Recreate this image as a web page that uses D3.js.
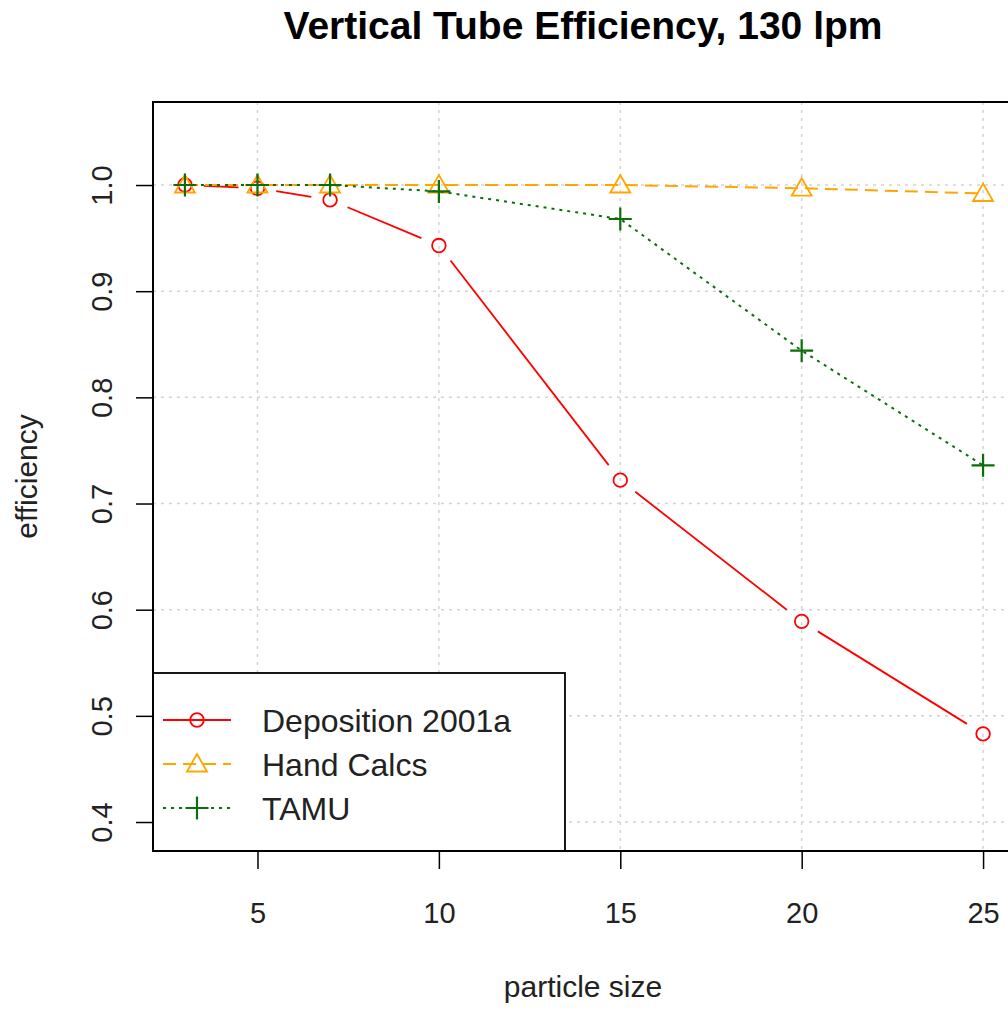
<!DOCTYPE html>
<html><head><meta charset="utf-8">
<script src="https://cdn.jsdelivr.net/npm/d3@7"></script>
<style>body{margin:0;background:#fff}svg{display:block}text{font-family:"Liberation Sans",Arial,sans-serif}</style>
</head><body>
<svg id="c" width="1008" height="1011"></svg>
<script>
const sizes = [3, 5, 7, 10, 15, 20, 25];
const deposition = [1.0, 0.997, 0.986, 0.943, 0.722, 0.589, 0.483];
const handCalcs = [1.0, 1.0, 1.0, 1.0, 1.0, 0.997, 0.992];
const tamu = [1.0, 1.0, 1.0, 0.994, 0.968, 0.844, 0.736];
const xTicks = [5, 10, 15, 20, 25];
const yTicks = [0.4, 0.5, 0.6, 0.7, 0.8, 0.9, 1.0];
const seriesNames = ["Deposition 2001a", "Hand Calcs", "TAMU"];
const titleText = "Vertical Tube Efficiency, 130 lpm";
const xTitle = "particle size", yTitle = "efficiency";

const svg = d3.select("#c");
const L = 153, R = 1015, T = 102, B = 851;
const x = d3.scaleLinear().domain([2.12, 25.88]).range([L, R]);
const y = d3.scaleLinear().domain([0.3727, 1.0782]).range([B, T]);

const series = [
  {name: seriesNames[0], vals: deposition, color: "#FF0000", dash: null, marker: "circle", gap: 19},
  {name: seriesNames[1], vals: handCalcs, color: "#FFA500", dash: "13,7", marker: "triangle", gap: 0},
  {name: seriesNames[2], vals: tamu, color: "#0B6E0B", dash: "3,5", marker: "plus", gap: 0}
];

// grid
const grid = svg.append("g").attr("stroke", "#d3d3d3").attr("stroke-width", 1.5).attr("stroke-dasharray", "3,5");
xTicks.forEach(t => grid.append("line").attr("x1", x(t)).attr("x2", x(t)).attr("y1", T).attr("y2", B));
yTicks.forEach(t => grid.append("line").attr("y1", y(t)).attr("y2", y(t)).attr("x1", L).attr("x2", R));

// axes
const xAxis = d3.axisBottom(x).tickValues(xTicks).tickSize(18).tickPadding(14).tickFormat(d3.format("d"));
const gx = svg.append("g").attr("transform", `translate(0,${B})`).call(xAxis);
gx.select(".domain").remove();
gx.selectAll(".tick line").attr("stroke", "#000").attr("stroke-width", 1.5);
gx.selectAll(".tick text").attr("font-size", 29).attr("fill", "#222").attr("dy", null).attr("y", 72);

const yAxis = d3.axisLeft(y).tickValues(yTicks).tickSize(17).tickFormat(d3.format(".1f"));
const gy = svg.append("g").attr("transform", `translate(${L},0)`).call(yAxis);
gy.select(".domain").remove();
gy.selectAll(".tick line").attr("stroke", "#000").attr("stroke-width", 1.5);
gy.selectAll(".tick text").attr("font-size", 29).attr("fill", "#222")
  .attr("x", null).attr("dy", null).attr("text-anchor", "middle")
  .attr("transform", "translate(-41,0) rotate(-90)");

const clip = svg.append("clipPath").attr("id", "pc").append("rect").attr("x", L).attr("y", T).attr("width", R - L).attr("height", B - T);
const plot = svg.append("g").attr("clip-path", "url(#pc)");

function marker(g, type, cx, cy, color) {
  if (type === "circle") {
    g.append("circle").attr("cx", cx).attr("cy", cy).attr("r", 6.8).attr("fill", "none").attr("stroke", color).attr("stroke-width", 1.8);
  } else if (type === "triangle") {
    const s = 10;
    g.append("path").attr("d", `M${cx},${cy - s * 1.0}L${cx + s},${cy + s * 0.75}L${cx - s},${cy + s * 0.75}Z`)
      .attr("fill", "none").attr("stroke", color).attr("stroke-width", 1.8);
  } else {
    const s = 11.5;
    g.append("path").attr("d", `M${cx - s},${cy}H${cx + s}M${cx},${cy - s}V${cy + s}`).attr("stroke", color).attr("stroke-width", 2.2);
  }
}

series.forEach(s => {
  const pts = sizes.map((v, i) => [x(v), y(s.vals[i])]);
  const g = plot.append("g");
  if (s.gap > 0) {
    for (let i = 0; i < pts.length - 1; i++) {
      const [x1, y1] = pts[i], [x2, y2] = pts[i + 1];
      const d = Math.hypot(x2 - x1, y2 - y1);
      if (d <= 2 * s.gap) continue;
      const ux = (x2 - x1) / d, uy = (y2 - y1) / d;
      g.append("line").attr("x1", x1 + ux * s.gap).attr("y1", y1 + uy * s.gap)
        .attr("x2", x2 - ux * s.gap).attr("y2", y2 - uy * s.gap)
        .attr("stroke", s.color).attr("stroke-width", 1.8);
    }
  } else {
    g.append("path").attr("d", d3.line()(pts)).attr("fill", "none").attr("stroke", s.color)
      .attr("stroke-width", 2).attr("stroke-dasharray", s.dash);
  }
  pts.forEach(p => marker(g, s.marker, p[0], p[1], s.color));
});

// legend
const lg = svg.append("g");
lg.append("rect").attr("x", L).attr("y", 673).attr("width", 565 - L).attr("height", B - 673)
  .attr("fill", "#fff").attr("stroke", "#000").attr("stroke-width", 1.8);
series.forEach((s, i) => {
  const cy = 720 + i * 44;
  lg.append("line").attr("x1", 163).attr("x2", 231).attr("y1", cy).attr("y2", cy)
    .attr("stroke", s.color).attr("stroke-width", 2).attr("stroke-dasharray", s.dash);
  marker(lg, s.marker, 197, cy, s.color);
  lg.append("text").attr("x", 262).attr("y", cy + 12).attr("font-size", 32).attr("fill", "#222").text(s.name);
});

// box
svg.append("rect").attr("x", L).attr("y", T).attr("width", R - L).attr("height", B - T)
  .attr("fill", "none").attr("stroke", "#000").attr("stroke-width", 2);

// titles
svg.append("text").attr("x", 583).attr("y", 39).attr("text-anchor", "middle")
  .attr("font-size", 39).attr("font-weight", "bold").text(titleText);
svg.append("text").attr("x", 583).attr("y", 997).attr("text-anchor", "middle")
  .attr("font-size", 30).attr("fill", "#222").text(xTitle);
svg.append("text").attr("transform", `translate(37,${(T + B) / 2}) rotate(-90)`).attr("text-anchor", "middle")
  .attr("font-size", 30).attr("fill", "#222").text(yTitle);
</script>
</body></html>
